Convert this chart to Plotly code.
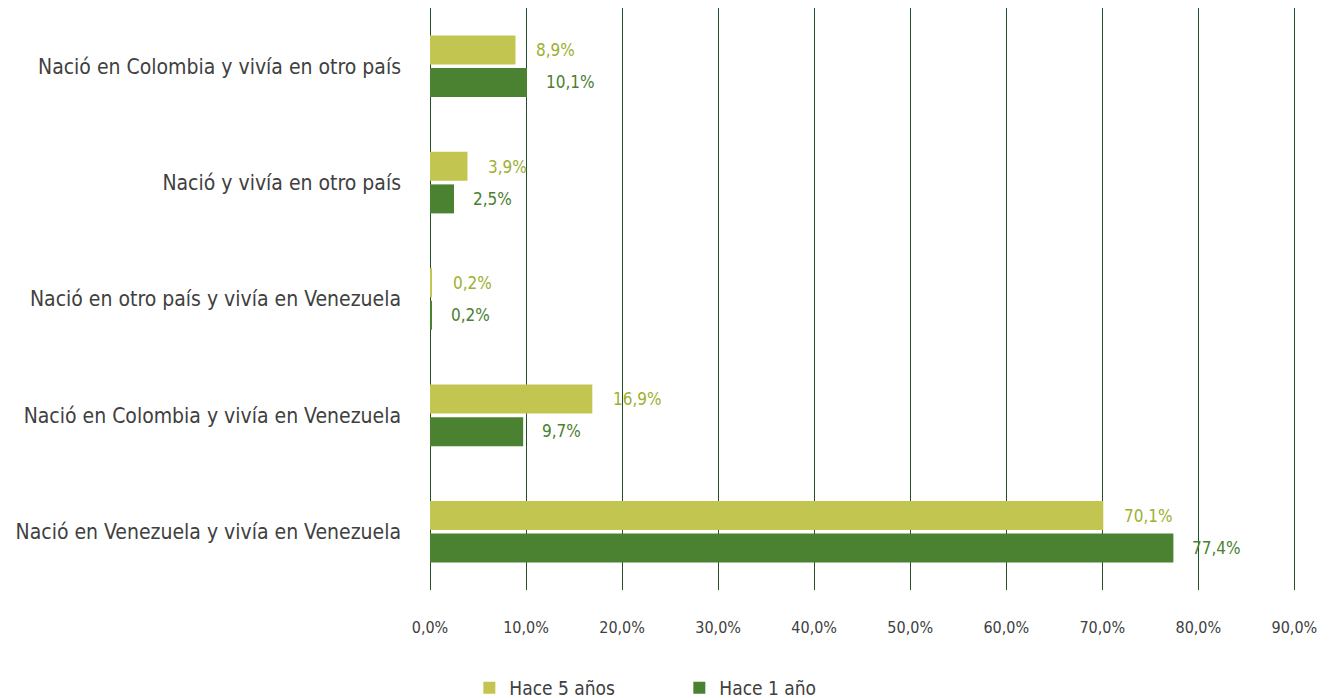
import plotly.graph_objects as go

categories = [
    "Nació en Colombia y vivía en otro país",
    "Nació y vivía en otro país",
    "Nació en otro país y vivía en Venezuela",
    "Nació en Colombia y vivía en Venezuela",
    "Nació en Venezuela y vivía en Venezuela",
]
hace_5 = [8.9, 3.9, 0.2, 16.9, 70.1]
hace_1 = [10.1, 2.5, 0.2, 9.7, 77.4]
x_ticks = [0, 10, 20, 30, 40, 50, 60, 70, 80, 90]
x_tick_labels = ["0,0%", "10,0%", "20,0%", "30,0%", "40,0%", "50,0%", "60,0%", "70,0%", "80,0%", "90,0%"]

FONT = "DejaVu Sans Condensed, DejaVu Sans, sans-serif"
YELLOW = "#C3C551"
GREEN = "#4B8231"
YELLOW_TXT = "#9DB02F"
GREEN_TXT = "#4A8030"
GRID = "#23502A"
TXT = "#404040"

def fmt(v):
    return f"{v:.1f}".replace(".", ",") + "%"

fig = go.Figure()
fig.add_trace(go.Bar(y=categories, x=hace_5, orientation="h", name="Hace 5 años",
                     marker=dict(color=YELLOW, line=dict(width=0))))
fig.add_trace(go.Bar(y=categories, x=hace_1, orientation="h", name="Hace 1 año",
                     marker=dict(color=GREEN, line=dict(width=0))))

for c, v in zip(categories, hace_5):
    fig.add_annotation(x=v, y=c, text=fmt(v), showarrow=False, xanchor="left",
                       xshift=19, yshift=16, font=dict(family=FONT, size=17, color=YELLOW_TXT))
for c, v in zip(categories, hace_1):
    fig.add_annotation(x=v, y=c, text=fmt(v), showarrow=False, xanchor="left",
                       xshift=17, yshift=-16, font=dict(family=FONT, size=17, color=GREEN_TXT))

fig.update_layout(
    width=1322, height=690,
    margin=dict(l=422, r=26.4, t=0, b=108, autoexpand=False),
    paper_bgcolor="white", plot_bgcolor="white",
    barmode="group", bargap=0.44, bargroupgap=0.11,
    font=dict(family=FONT, color=TXT),
    showlegend=True,
    legend=dict(orientation="h", x=0.045, xanchor="left", y=-0.168, yanchor="middle",
                font=dict(family=FONT, size=19, color=TXT), entrywidth=165, entrywidthmode="pixels",
                traceorder="normal"),
    xaxis=dict(range=[0, 91], tickvals=x_ticks, ticktext=x_tick_labels, automargin=False,
               showgrid=True, gridcolor=GRID, gridwidth=1, zeroline=True, zerolinecolor=GRID,
               zerolinewidth=1, showline=False, ticks="", ticklabelstandoff=26,
               tickfont=dict(family=FONT, size=16, color=TXT), fixedrange=True),
    yaxis=dict(autorange="reversed", showgrid=False, showline=False, ticks="", automargin=False,
               ticklabelstandoff=28, tickfont=dict(family=FONT, size=21, color=TXT)),
)

fig.write_html("out.html")
